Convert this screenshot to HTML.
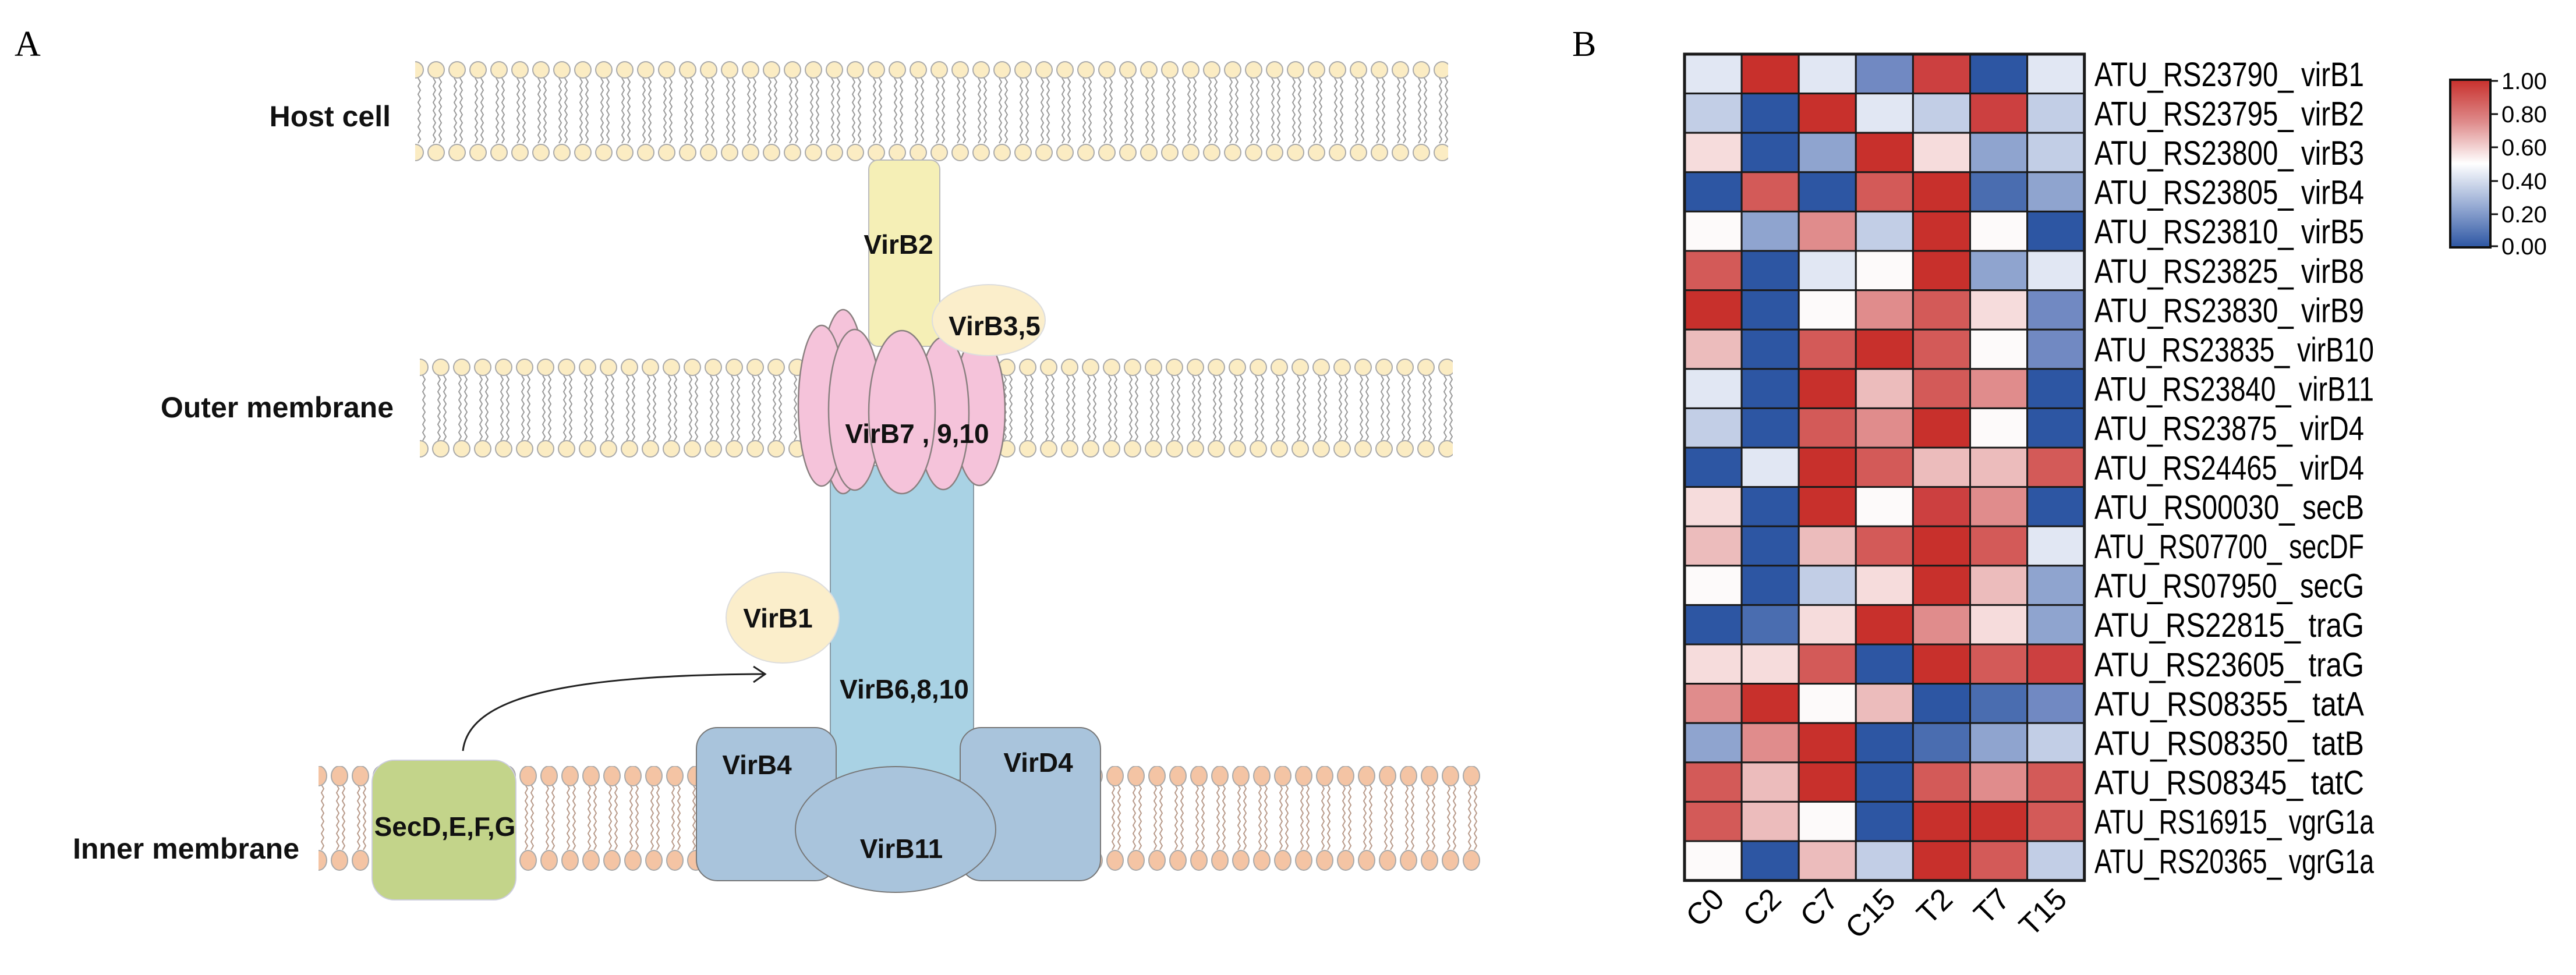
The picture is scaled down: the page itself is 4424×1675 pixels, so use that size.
<!DOCTYPE html>
<html><head><meta charset="utf-8"><style>html,body{margin:0;padding:0;background:#fff}svg{display:block}</style></head>
<body>
<svg xmlns="http://www.w3.org/2000/svg" width="4424" height="1675" viewBox="0 0 4424 1675">
<defs>
<pattern id="mh" patternUnits="userSpaceOnUse" x="695" y="105" width="36" height="172">
<path d="M13 29 l4 7 l-4 7 l4 7 l-4 7 l4 7 l-4 7 l4 7 l-4 7 l4 7 l-4 7 l4 7 l-4 7 l4 7 l-4 7 l4 7 l-4 7 M23 29 l4 7 l-4 7 l4 7 l-4 7 l4 7 l-4 7 l4 7 l-4 7 l4 7 l-4 7 l4 7 l-4 7 l4 7 l-4 7 l4 7 l-4 7" fill="none" stroke="#9a9a9a" stroke-width="2"/>
<circle cx="18" cy="15" r="14" fill="#fbecc3" stroke="#aaa" stroke-width="2"/>
<circle cx="18" cy="157" r="14" fill="#fbecc3" stroke="#aaa" stroke-width="2"/>
</pattern>
<pattern id="mo" patternUnits="userSpaceOnUse" x="703" y="616" width="36" height="172">
<path d="M13 29 l4 7 l-4 7 l4 7 l-4 7 l4 7 l-4 7 l4 7 l-4 7 l4 7 l-4 7 l4 7 l-4 7 l4 7 l-4 7 l4 7 l-4 7 M23 29 l4 7 l-4 7 l4 7 l-4 7 l4 7 l-4 7 l4 7 l-4 7 l4 7 l-4 7 l4 7 l-4 7 l4 7 l-4 7 l4 7 l-4 7" fill="none" stroke="#9a9a9a" stroke-width="2"/>
<circle cx="18" cy="15" r="14" fill="#fbecc3" stroke="#aaa" stroke-width="2"/>
<circle cx="18" cy="155" r="14" fill="#fbecc3" stroke="#aaa" stroke-width="2"/>
</pattern>
<pattern id="mi" patternUnits="userSpaceOnUse" x="529" y="1316" width="36" height="180">
<path d="M13 32 l4 7 l-4 7 l4 7 l-4 7 l4 7 l-4 7 l4 7 l-4 7 l4 7 l-4 7 l4 7 l-4 7 l4 7 l-4 7 l4 7 l-4 7 M23 32 l4 7 l-4 7 l4 7 l-4 7 l4 7 l-4 7 l4 7 l-4 7 l4 7 l-4 7 l4 7 l-4 7 l4 7 l-4 7 l4 7 l-4 7" fill="none" stroke="#b89a8a" stroke-width="2"/>
<ellipse cx="18" cy="17" rx="14" ry="17" fill="#f4c4a4" stroke="#aaa" stroke-width="2"/>
<ellipse cx="18" cy="162" rx="14" ry="17" fill="#f4c4a4" stroke="#aaa" stroke-width="2"/>
</pattern>
<linearGradient id="cb" x1="0" y1="0" x2="0" y2="1">
<stop offset="0" stop-color="#c8302c"/><stop offset="0.25" stop-color="#de8a8a"/><stop offset="0.5" stop-color="#ffffff"/><stop offset="0.75" stop-color="#98acd4"/><stop offset="1" stop-color="#2d56a3"/>
</linearGradient>
</defs>

<!-- Panel A -->
<text x="25" y="96" font-family="Liberation Serif, serif" font-size="62">A</text>
<rect x="713" y="105" width="1774" height="172" fill="url(#mh)"/>
<rect x="721" y="616" width="1774" height="172" fill="url(#mo)"/>
<rect x="547" y="1316" width="1998" height="180" fill="url(#mi)"/>

<g font-family="Liberation Sans, sans-serif" font-weight="bold" font-size="50" fill="#111">
<text x="671" y="217" text-anchor="end">Host cell</text>
<text x="676" y="717" text-anchor="end">Outer membrane</text>
<text x="514" y="1475" text-anchor="end">Inner membrane</text>
</g>

<rect x="1426" y="800" width="246" height="540" fill="#a9d2e4" stroke="#8a9aa5" stroke-width="2"/>
<rect x="1492" y="275" width="122" height="320" rx="16" fill="#f5efb6" stroke="#bbb" stroke-width="2"/>
<g fill="#f5c3da" stroke="#8a8080" stroke-width="2.5">
<ellipse cx="1448" cy="690" rx="40" ry="158"/>
<ellipse cx="1682" cy="706" rx="44" ry="128"/>
<ellipse cx="1411" cy="697" rx="40" ry="138"/>
<ellipse cx="1620" cy="710" rx="44" ry="131"/>
<ellipse cx="1468" cy="704" rx="45" ry="138"/>
<ellipse cx="1549" cy="708" rx="57" ry="140"/>
</g>
<ellipse cx="1698" cy="550" rx="97" ry="61" fill="#fbeecb" stroke="#ddd" stroke-width="2"/>
<ellipse cx="1344" cy="1061" rx="97" ry="78" fill="#fbeecb" stroke="#ddd" stroke-width="2"/>
<rect x="1196" y="1250" width="240" height="263" rx="36" fill="#a9c4dc" stroke="#777" stroke-width="2"/>
<rect x="1649" y="1250" width="241" height="263" rx="36" fill="#a9c4dc" stroke="#777" stroke-width="2"/>
<ellipse cx="1538" cy="1425" rx="172" ry="108" fill="#a9c4dc" stroke="#777" stroke-width="2"/>
<rect x="639" y="1306" width="247" height="240" rx="38" fill="#c3d48a" stroke="#ccd" stroke-width="2"/>
<path d="M795 1290 C 805 1200, 960 1160, 1312 1158" fill="none" stroke="#222" stroke-width="3"/>
<path d="M1294 1145 L1314 1158 L1294 1172" fill="none" stroke="#222" stroke-width="3"/>

<g font-family="Liberation Sans, sans-serif" font-weight="bold" font-size="46" fill="#111" text-anchor="middle">
<text x="1543" y="436">VirB2</text>
<text x="1708" y="576">VirB3,5</text>
<text x="1575" y="761">VirB7 ,  9,10</text>
<text x="1336" y="1078">VirB1</text>
<text x="1553" y="1200">VirB6,8,10</text>
<text x="1300" y="1330">VirB4</text>
<text x="1783" y="1326">VirD4</text>
<text x="1548" y="1474">VirB11</text>
<text x="764" y="1436">SecD,E,F,G</text>
</g>

<!-- Panel B -->
<text x="2700" y="96" font-family="Liberation Serif, serif" font-size="62">B</text>
<g id="hm" stroke="#1a1a1a" stroke-width="3"></g>
<g id="lbl" font-family="Liberation Sans, sans-serif" font-size="58" fill="#000"></g>
<g id="col" font-family="Liberation Sans, sans-serif" font-size="52" fill="#000"></g>

<rect x="4208" y="137" width="69" height="288" fill="url(#cb)" stroke="#111" stroke-width="4"/>
<g stroke="#111" stroke-width="3">
<line x1="4277" y1="139" x2="4290" y2="139"/><line x1="4277" y1="196" x2="4290" y2="196"/><line x1="4277" y1="253" x2="4290" y2="253"/><line x1="4277" y1="311" x2="4290" y2="311"/><line x1="4277" y1="368" x2="4290" y2="368"/><line x1="4277" y1="423" x2="4290" y2="423"/>
</g>
<g font-family="Liberation Sans, sans-serif" font-size="40" fill="#000">
<text x="4296" y="153">1.00</text><text x="4296" y="210">0.80</text><text x="4296" y="267">0.60</text><text x="4296" y="325">0.40</text><text x="4296" y="382">0.20</text><text x="4296" y="437">0.00</text>
</g>

<script>
(function(){
var C={R:"#c8302c",q:"#cc4040",r1:"#d35a58",r2:"#e08c8c",r3:"#ecbcbc",r4:"#f6dcdc",W:"#fdfafa",b4:"#e1e7f3",b3:"#c2cee6",b2:"#8fa4cf",b1:"#7189c2",bb:"#4a6db0",B:"#2d56a3"};
var rows=[
["b4","R","b4","b1","q","B","b4"],
["b3","B","R","b4","b3","q","b3"],
["r4","B","b2","R","r4","b2","b3"],
["B","r1","B","r1","R","bb","b2"],
["W","b2","r2","b3","R","W","B"],
["r1","B","b4","W","R","b2","b4"],
["R","B","W","r2","r1","r4","b1"],
["r3","B","r1","R","r1","W","b1"],
["b4","B","R","r3","r1","r2","B"],
["b3","B","r1","r2","R","W","B"],
["B","b4","R","r1","r3","r3","r1"],
["r4","B","R","W","q","r2","B"],
["r3","B","r3","r1","R","r1","b4"],
["W","B","b3","r4","R","r3","b2"],
["B","bb","r4","R","r2","r4","b2"],
["r4","r4","r1","B","R","r1","q"],
["r2","R","W","r3","B","bb","b1"],
["b2","r2","R","B","bb","b2","b3"],
["r1","r3","R","B","r1","r2","r1"],
["r1","r3","W","B","R","R","r1"],
["W","B","r3","b3","R","r1","b3"]];
var names=["ATU_RS23790_ virB1","ATU_RS23795_ virB2","ATU_RS23800_ virB3","ATU_RS23805_ virB4","ATU_RS23810_ virB5","ATU_RS23825_ virB8","ATU_RS23830_ virB9","ATU_RS23835_ virB10","ATU_RS23840_ virB11","ATU_RS23875_ virD4","ATU_RS24465_ virD4","ATU_RS00030_ secB","ATU_RS07700_ secDF","ATU_RS07950_ secG","ATU_RS22815_ traG","ATU_RS23605_ traG","ATU_RS08355_ tatA","ATU_RS08350_ tatB","ATU_RS08345_ tatC","ATU_RS16915_ vgrG1a","ATU_RS20365_ vgrG1a"];
var cols=["C0","C2","C7","C15","T2","T7","T15"];
var x0=2893,y0=93,cw=98.1,rh=67.6,ns="http://www.w3.org/2000/svg";
var hm=document.getElementById("hm"),lb=document.getElementById("lbl"),cl=document.getElementById("col");
function el(t,a,p){var e=document.createElementNS(ns,t);for(var k in a)e.setAttribute(k,a[k]);p.appendChild(e);return e;}
for(var i=0;i<21;i++){for(var j=0;j<7;j++){el("rect",{x:x0+j*cw,y:y0+i*rh,width:cw,height:rh,fill:C[rows[i][j]]},hm);}
var t=el("text",{x:3597,y:y0+i*rh+rh/2+21,textLength:(names[i].length>=20?505:(names[i].length>=19?480:463)),lengthAdjust:"spacingAndGlyphs"},lb);t.textContent=names[i];}
el("rect",{x:x0,y:y0,width:cw*7,height:rh*21,fill:"none","stroke-width":5},hm);
for(var j=0;j<7;j++){var cx=x0+j*cw+cw/2+22;var t=el("text",{x:cx,y:1548,"text-anchor":"end",transform:"rotate(-45 "+cx+" 1548)"},cl);t.textContent=cols[j];}
})();
</script>
</svg>
</body></html>
